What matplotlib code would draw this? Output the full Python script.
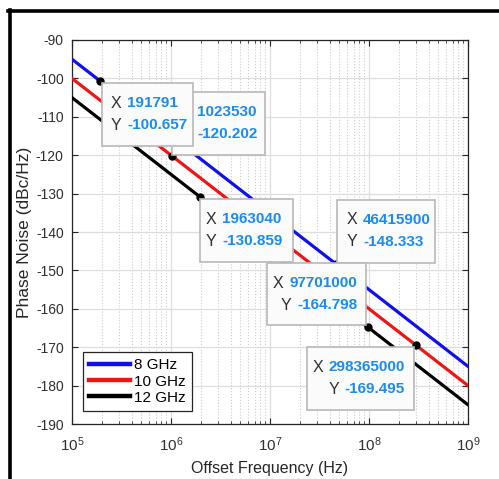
import matplotlib
matplotlib.use("Agg")
import matplotlib.pyplot as plt
from matplotlib.lines import Line2D
from matplotlib.patches import Rectangle

plt.rcParams['font.family'] = ['Liberation Sans', 'DejaVu Sans']
plt.rcParams['axes.unicode_minus'] = False
plt.rcParams['mathtext.fontset'] = 'custom'
plt.rcParams['mathtext.rm'] = 'Liberation Sans'

# line end points (offset frequency, phase noise)
freq = [1e5, 1e9]
noise_8ghz = [-95, -175]
noise_10ghz = [-100, -180]
noise_12ghz = [-105, -185]
series_labels = ['8 GHz', '10 GHz', '12 GHz']
series_colors = ['#1010ee', '#ee1515', 'black']

# data tips
tip_x = [191791, 1023530, 1963040, 46415900, 97701000, 298365000]
tip_y = [-100.657, -120.202, -130.859, -148.333, -164.798, -169.495]
tip_xtxt = ['191791', '1023530', '1963040', '46415900', '97701000', '298365000']
tip_ytxt = ['-100.657', '-120.202', '-130.859', '-148.333', '-164.798', '-169.495']

W, H = 499, 479
AX_L, AX_R, AX_T, AX_B = 72, 468, 40, 424

fig = plt.figure(figsize=(W / 100, H / 100), dpi=100)
ax = fig.add_axes([AX_L / W, 1 - AX_B / H, (AX_R - AX_L) / W, (AX_B - AX_T) / H])

for ys, lab, col in zip([noise_8ghz, noise_10ghz, noise_12ghz], series_labels, series_colors):
    ax.plot(freq, ys, color=col, lw=2.3, label=lab, zorder=3)
ax.plot(tip_x, tip_y, 'o', color='black', ms=5, zorder=4)

ax.set_xscale('log')
ax.set_xlim(1e5, 1e9)
ax.set_ylim(-190, -90)
ax.set_yticks(range(-190, -89, 10))
ax.grid(True, which='major', color='#dedede', lw=0.9, zorder=0)
ax.grid(True, which='minor', axis='x', color='#cccccc', lw=0.8, ls=':', zorder=0)
ax.tick_params(which='both', direction='in', top=True, right=True, colors='#262626',
               labelsize=10, labelcolor='#303030')
ax.tick_params(which='major', length=4, pad=6)
ax.tick_params(which='minor', length=2.5)
ax.tick_params(axis='x', pad=8, labelsize=11)
for s in ax.spines.values():
    s.set_color('#262626')
    s.set_linewidth(0.9)

ax.set_xlabel('Offset Frequency (Hz)', fontsize=11.5, color='#262626', labelpad=5)
ax.set_ylabel('Phase Noise (dBc/Hz)', fontsize=12.5, color='#262626', labelpad=3)

leg = ax.legend(loc='lower left', bbox_to_anchor=(0.028, 0.034), borderaxespad=0,
                fontsize=11, handlelength=2.7, handletextpad=0.25, labelspacing=0.15,
                borderpad=0.4, fancybox=False, framealpha=1, edgecolor='#262626')
leg.get_frame().set_linewidth(0.9)
for ln in leg.get_lines():
    ln.set_linewidth(3.2)


def px(x, y):
    return (x - AX_L) / (AX_R - AX_L), (AX_B - y) / (AX_B - AX_T)


# box layout in image pixels: left, top, right, bottom, align, text x, show labels
boxes = [
    (172, 92, 265, 155, 'left', 197, False),
    (102, 83, 193, 146, 'left', 127, True),
    (200, 199, 293, 262, 'left', 222, True),
    (337, 200, 435, 263, 'left', 363, True),
    (267, 263, 366, 325, 'right', 357, True),
    (307, 347, 414, 410, 'right', 405, True),
]
order = [1, 0, 2, 3, 4, 5]
val_col = '#1a8cf0'
for z, (i, b) in enumerate(zip(order, boxes)):
    l, t, r, bt, align, tx, show = b
    zz = 6 + z
    x0, y0 = px(l, bt)
    x1, y1 = px(r, t)
    ax.add_patch(Rectangle((x0, y0), x1 - x0, y1 - y0, transform=ax.transAxes,
                           facecolor='#fbfbfb', edgecolor='#b8b8b8', lw=1.2, zorder=zz,
                           clip_on=False))
    for k, (lab, val) in enumerate([('X', tip_xtxt[i]), ('Y', tip_ytxt[i])]):
        yy = t + 20 + 22 * k
        vt = ax.text(*px(tx, yy), val, transform=ax.transAxes, ha=align, va='center',
                     fontsize=11, fontweight='bold', color=val_col, zorder=zz + 0.5)
        if show:
            ax.annotate(lab, xy=(0, 0.5), xycoords=vt, xytext=(-4, 0),
                        textcoords='offset points', ha='right', va='center',
                        fontsize=11.5, color='#303030', zorder=zz + 0.5)

# outer frame lines
fig.add_artist(Line2D([8 / W, 1], [1 - 11 / H, 1 - 11 / H], color='black', lw=2.6))
fig.add_artist(Line2D([10 / W, 10 / W], [0, 1 - 10 / H], color='black', lw=2.6))

fig.savefig('out.png', dpi=100)
